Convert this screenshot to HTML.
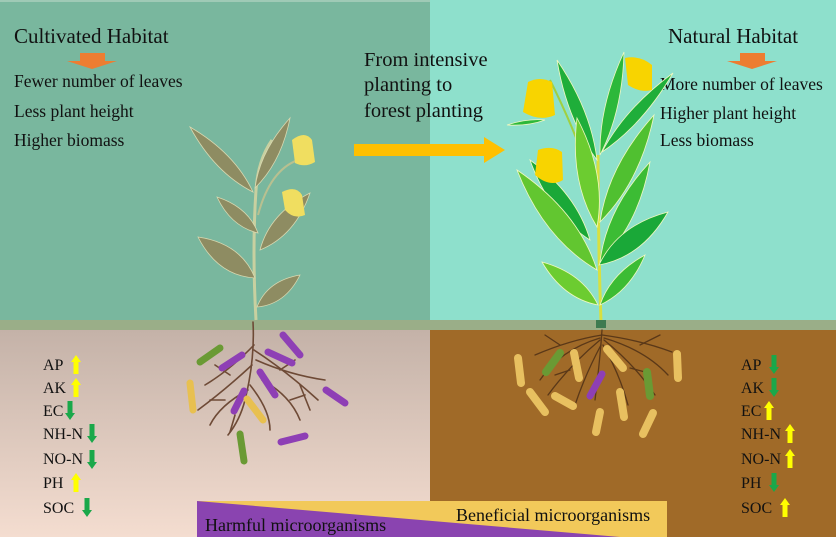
<!DOCTYPE html>
<html><head><meta charset="utf-8"><style>
body{margin:0;width:836px;height:537px;overflow:hidden}
svg{display:block}
text{font-family:"Liberation Serif",serif;fill:#111}
</style></head><body>
<svg id="s" width="836" height="537" viewBox="0 0 836 537" xmlns="http://www.w3.org/2000/svg">
<defs>
<linearGradient id="pk" x1="0" y1="0" x2="0" y2="1"><stop offset="0" stop-color="#c4b2a8"/><stop offset="1" stop-color="#f4ddd0"/></linearGradient>
<g id="up"><rect x="-2.5" y="-4" width="5" height="13" fill="#ffff00"/><polygon points="-5,-3 5,-3 0,-10" fill="#ffff00"/></g>
<g id="dn"><rect x="-2.5" y="-9" width="5" height="13" fill="#1aa84a"/><polygon points="-5,3 5,3 0,10" fill="#1aa84a"/></g>
</defs>
<rect x="0" y="0" width="430" height="322" fill="#79b79e"/>
<rect x="0" y="0" width="430" height="2" fill="#9fcab6"/>
<rect x="430" y="0" width="406" height="322" fill="#8ee0cc"/>
<rect x="0" y="330" width="430" height="207" fill="url(#pk)"/>
<rect x="430" y="330" width="406" height="207" fill="#a06a28"/>
<rect x="0" y="320" width="836" height="10" fill="#9aae88"/>

<text x="14" y="43" font-size="21">Cultivated Habitat</text>
<rect x="80" y="53" width="25" height="9" fill="#ed7d31"/><polygon points="67,61 117,61 92,69" fill="#ed7d31"/>
<text x="14" y="87" font-size="17.5">Fewer number of leaves</text>
<text x="14" y="117" font-size="17.5">Less plant height</text>
<text x="14" y="146" font-size="17.5">Higher biomass</text>

<text x="364" y="66" font-size="20.5">From intensive</text>
<text x="364" y="91" font-size="20.5">planting to</text>
<text x="364" y="117" font-size="20.5">forest planting</text>
<rect x="354" y="144" width="132" height="12" fill="#ffc000"/><polygon points="484,137 505,150 484,163" fill="#ffc000"/>

<text x="668" y="43" font-size="21">Natural Habitat</text>
<rect x="740" y="53" width="25" height="9" fill="#ed7d31"/><polygon points="727,61 777,61 752,69" fill="#ed7d31"/>
<text x="660" y="90" font-size="17.5">More number of leaves</text>
<text x="660" y="119" font-size="17.5">Higher plant height</text>
<text x="660" y="146" font-size="17.5">Less biomass</text>

<path d="M256 320 Q252 250 256 190 Q258 160 272 140" fill="none" stroke="#c8d0a0" stroke-width="3"/>
<path d="M258 215 Q270 170 298 160" fill="none" stroke="#b8c090" stroke-width="2"/>
<g id="lp" fill="#8e8c62" stroke="#d8d8b0" stroke-width="0.8"></g>
<g fill="#f0de60">
<path d="M292 140 Q305 130 312 140 L315 162 Q305 168 295 163Z"/>
<path d="M282 192 Q296 185 302 195 L305 215 Q294 220 285 210Z"/>
</g>
<g stroke="#6e4a36" stroke-width="1.6" fill="none" stroke-linecap="round">
<path d="M253 322 Q255 360 245 400 Q240 420 228 435"/>
<path d="M254 345 Q230 370 205 385"/>
<path d="M254 350 Q285 370 318 400"/>
<path d="M252 365 Q225 390 198 410"/>
<path d="M256 360 Q290 375 325 380"/>
<path d="M250 385 Q270 410 270 430"/>
<path d="M248 390 Q220 405 210 425"/>
<path d="M262 380 Q290 395 300 420"/>
<path d="M230 375 L215 365 M280 370 L295 360 M225 400 L210 400 M290 400 L305 395 M235 415 L230 432 M300 385 L310 410"/>
</g>
<g stroke-linecap="round" fill="none" stroke-width="7">
<path d="M200 362 L220 348" stroke="#6a9a34"/>
<path d="M222 368 L242 355" stroke="#8e3fb5"/>
<path d="M283 335 L300 355" stroke="#8e3fb5"/>
<path d="M268 352 L292 363" stroke="#8e3fb5"/>
<path d="M260 372 L275 395" stroke="#8e3fb5"/>
<path d="M234 411 L244 391" stroke="#8e3fb5"/>
<path d="M247 399 L263 420" stroke="#e8c050"/>
<path d="M190 383 L193 410" stroke="#e8c050"/>
<path d="M326 390 L345 403" stroke="#8e3fb5"/>
<path d="M281 442 L305 436" stroke="#8e3fb5"/>
<path d="M240 434 L244 461" stroke="#6a9a34"/>
</g>

<path d="M601 322 Q598 240 598 155" fill="none" stroke="#d8e040" stroke-width="3"/>
<path d="M598 200 Q580 140 550 80" fill="none" stroke="#a0d040" stroke-width="2"/>
<g id="rp" fill="#2cb83a" stroke="#f0f8c0" stroke-width="0.8"></g>
<g fill="#f8d400">
<path d="M528 82 Q540 76 552 82 L555 115 Q540 122 523 112Z"/>
<path d="M625 58 Q640 55 652 65 L652 90 Q640 93 628 85Z"/>
<path d="M538 150 Q552 145 562 152 L563 180 Q550 188 535 175Z"/>
</g>
<g stroke="#5a3818" stroke-width="1.3" fill="none" stroke-linecap="round">
<path d="M602 330 Q600 360 595 400"/>
<path d="M602 335 Q570 340 535 355"/>
<path d="M602 335 Q640 340 672 352"/>
<path d="M600 340 Q570 365 548 395"/>
<path d="M604 340 Q635 365 655 395"/>
<path d="M601 345 Q585 375 575 405"/>
<path d="M603 345 Q620 375 628 405"/>
<path d="M600 338 Q560 350 540 380 M604 338 Q645 350 668 375"/>
<path d="M560 345 L545 335 M640 345 L660 335 M570 370 L555 375 M630 368 L645 372"/>
</g>
<rect x="596" y="320" width="10" height="8" fill="#3e7a50"/>
<g stroke-linecap="round" fill="none" stroke-width="8">
<path d="M518 358 L521 383" stroke="#e8c060"/>
<path d="M546 372 L560 353" stroke="#6a9a34"/>
<path d="M574 353 L579 378" stroke="#e8c060"/>
<path d="M607 349 L623 368" stroke="#e8c060"/>
<path d="M677 354 L678 378" stroke="#e8c060"/>
<path d="M647 372 L650 396" stroke="#6a9a34"/>
<path d="M602 374 L590 396" stroke="#8e3fb5" stroke-width="7"/>
<path d="M530 392 L545 412" stroke="#e8c060"/>
<path d="M555 396 L573 406" stroke="#e8c060"/>
<path d="M620 392 L624 417" stroke="#e8c060"/>
<path d="M600 412 L596 432" stroke="#e8c060"/>
<path d="M653 413 L643 434" stroke="#e8c060"/>
</g>

<g font-size="16">
<text x="43" y="370">AP</text><text x="43" y="393">AK</text><text x="43" y="416">EC</text>
<text x="43" y="439">NH-N</text><text x="43" y="464">NO-N</text><text x="43" y="488">PH</text><text x="43" y="513">SOC</text>
<text x="741" y="370">AP</text><text x="741" y="393">AK</text><text x="741" y="416">EC</text>
<text x="741" y="439">NH-N</text><text x="741" y="464">NO-N</text><text x="741" y="488">PH</text><text x="741" y="513">SOC</text>
</g>
<use href="#up" x="76" y="365"/><use href="#up" x="76" y="388"/><use href="#dn" x="70" y="410"/>
<use href="#dn" x="92" y="433"/><use href="#dn" x="92" y="459"/><use href="#up" x="76" y="483"/><use href="#dn" x="87" y="507"/>
<use href="#dn" x="774" y="364"/><use href="#dn" x="774" y="387"/><use href="#up" x="769" y="411"/>
<use href="#up" x="790" y="434"/><use href="#up" x="790" y="459"/><use href="#dn" x="774" y="482"/><use href="#up" x="785" y="508"/>

<rect x="197" y="501" width="470" height="36" fill="#f2c95a"/>
<polygon points="197,501 620,537 197,537" fill="#8a44b0"/>
<text x="205" y="531" font-size="18">Harmful microorganisms</text>
<text x="456" y="521" font-size="18">Beneficial microorganisms</text>
</svg>
<script>
function leaf(g,bx,by,tx,ty,w,col){
 var dx=tx-bx,dy=ty-by,l=Math.hypot(dx,dy),px=-dy/l*w,py=dx/l*w;
 var mx=bx+dx*0.45,my=by+dy*0.45;
 var p=document.createElementNS("http://www.w3.org/2000/svg","path");
 p.setAttribute("d","M"+bx+" "+by+" Q"+(mx+px)+" "+(my+py)+" "+tx+" "+ty+" Q"+(mx-px)+" "+(my-py)+" "+bx+" "+by+"Z");
 if(col)p.setAttribute("fill",col);
 document.getElementById(g).appendChild(p);
}
var L=[[253,192,190,127,14],[255,188,290,118,12],[258,233,217,197,13],[255,278,198,237,20],[257,307,300,275,15],[260,250,310,193,17]];
L.forEach(function(a){leaf("lp",a[0],a[1],a[2],a[3],a[4]);});
var R=[[597,160,557,60,13,"#1fae3a"],[600,155,624,52,12,"#2cb83a"],[602,152,673,73,12,"#1fae3a"],[590,240,530,160,17,"#1aa838"],
[597,227,577,118,19,"#6ccc30"],[600,222,654,115,18,"#50c030"],[600,262,650,162,18,"#3cbc34"],[597,270,517,170,22,"#62c630"],
[599,265,668,212,20,"#1aa838"],[598,305,542,262,16,"#6ccc30"],[600,305,645,255,13,"#3cbc34"],[545,120,507,125,4,"#2cb83a"]];
R.forEach(function(a){leaf("rp",a[0],a[1],a[2],a[3],a[4],a[5]);});
</script>
</body></html>
